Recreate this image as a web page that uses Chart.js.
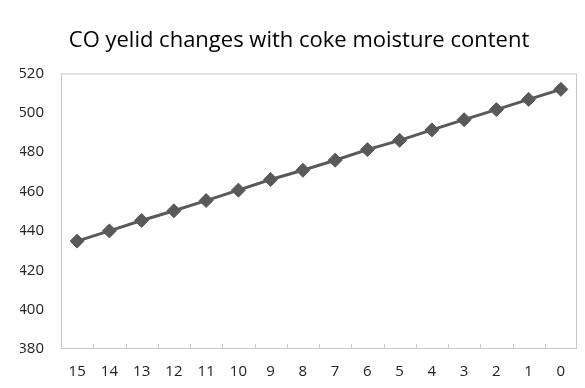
<!DOCTYPE html>
<html>
<head>
<meta charset="utf-8">
<script src="https://cdn.jsdelivr.net/npm/chart.js@4"></script>
<style>
  html, body { margin: 0; padding: 0; background: #fff; }
  #wrap { width: 585px; height: 388px; }
</style>
</head>
<body>
<div id="wrap"><canvas id="chart" width="585" height="388"></canvas></div>
<script>
const moisture = ["15", "14", "13", "12", "11", "10", "9", "8", "7", "6", "5", "4", "3", "2", "1", "0"];
const coYield = [434.8, 440.0, 445.3, 450.2, 455.4, 460.7, 466.1, 470.8, 475.9, 481.3, 486.0, 491.3, 496.5, 501.6, 506.8, 511.9];
const yTicks = [380, 400, 420, 440, 460, 480, 500, 520];

const fontFamily = "'Open Sans', 'Noto Sans', sans-serif";

// plot frame + small inward tick marks between categories
const framePlugin = {
  id: "frame",
  afterDraw(chart) {
    const { ctx, chartArea: a } = chart;
    const x = chart.scales.x;
    ctx.save();
    ctx.strokeStyle = "#c8c8c8";
    ctx.lineWidth = 1;
    ctx.strokeRect(a.left + 0.5, a.top + 0.5, a.right - a.left - 1, a.bottom - a.top - 1);
    ctx.beginPath();
    for (let i = 1; i < moisture.length; i++) {
      const px = Math.round((x.getPixelForTick(i - 1) + x.getPixelForTick(i)) / 2) + 0.5;
      ctx.moveTo(px, a.bottom);
      ctx.lineTo(px, a.bottom - 5);
    }
    ctx.stroke();
    ctx.restore();
  }
};

new Chart(document.getElementById("chart"), {
  type: "line",
  data: {
    labels: moisture,
    datasets: [
      {
        label: "CO yield",
        data: coYield,
        borderColor: "#595959",
        borderWidth: 3,
        pointStyle: "rectRot",
        pointRadius: 7,
        pointBackgroundColor: "#595959",
        pointBorderColor: "#595959",
        pointBorderWidth: 1,
        tension: 0,
      },
    ],
  },
  options: {
    responsive: false,
    animation: false,
    layout: { padding: { left: 20, right: 7, top: 0, bottom: 0 } },
    plugins: {
      legend: { display: false },
      tooltip: { enabled: false },
      title: {
        display: true,
        text: "CO yelid changes with coke moisture content",
        color: "#000",
        font: { family: fontFamily, size: 22, weight: "normal" },
        padding: { top: 28, bottom: 19 },
      },
    },
    scales: {
      x: {
        offset: true,
        grid: { display: false, drawTicks: false },
        border: { display: false },
        ticks: {
          color: "#222",
          font: { family: fontFamily, size: 15 },
          padding: 14,
          maxRotation: 0,
        },
        afterFit(scale) { scale.height = 39; },
      },
      y: {
        min: 380,
        max: 520,
        afterBuildTicks(scale) { scale.ticks = yTicks.map(v => ({ value: v })); },
        grid: { display: false, drawTicks: false },
        border: { display: false },
        ticks: {
          color: "#222",
          font: { family: fontFamily, size: 15 },
          padding: 17,
        },
        afterFit(scale) { scale.width = 41; },
      },
    },
  },
  plugins: [framePlugin],
});
</script>
</body>
</html>
